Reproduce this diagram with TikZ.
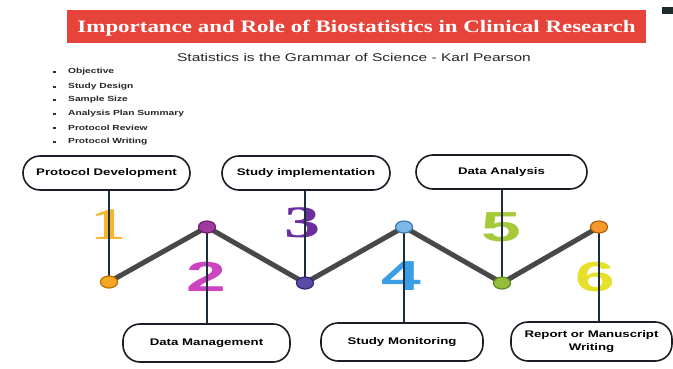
\documentclass[tikz,border=0pt]{standalone}
\usepackage{fontspec}
\usetikzlibrary{shapes.geometric}
\setmainfont{Liberation Serif}
\newfontfamily\titlefont[FakeStretch=1.31]{Liberation Serif}
\newfontfamily\labfont[FakeStretch=1.38]{Liberation Sans}
\newfontfamily\numsans[FakeStretch=1.7]{Liberation Sans}
\newfontfamily\numserif[FakeStretch=1.6]{Liberation Serif}

\definecolor{titlered}{RGB}{230,68,58}
\definecolor{zigline}{RGB}{72,72,72}
\definecolor{stemline}{RGB}{30,45,61}
\definecolor{ovaledge}{RGB}{25,30,38}
\definecolor{corner}{RGB}{28,43,43}
\definecolor{numA}{RGB}{245,183,49}
\definecolor{numB}{RGB}{204,68,192}
\definecolor{numC}{RGB}{107,46,158}
\definecolor{numD}{RGB}{58,158,228}
\definecolor{numE}{RGB}{166,201,58}
\definecolor{numF}{RGB}{230,224,42}

\tikzset{
  oval/.style={draw=ovaledge, line width=1.6pt, fill=white, rounded corners=17pt,
    inner sep=2pt, align=center, font=\labfont\bfseries\fontsize{9.6}{11}\selectfont},
  stem/.style={draw=stemline, line width=2pt},
  zig/.style={draw=zigline, line width=5pt, line join=round, line cap=round},
  dot/.style={ellipse, minimum width=17pt, minimum height=12pt, inner sep=0pt, line width=1.2pt},
  sansnum/.style={inner sep=0pt, font=\numsans\bfseries\fontsize{42}{42}\selectfont},
  serifnum/.style={inner sep=0pt, font=\numserif\bfseries\fontsize{45}{45}\selectfont},
  bulletmark/.style={fill=black!80, minimum width=3pt, minimum height=2pt, inner sep=0pt},
  bullettext/.style={anchor=west, inner sep=0pt, text=black!85,
    font=\labfont\bfseries\fontsize{7.4}{8}\selectfont},
}

\begin{document}
\begin{tikzpicture}[x=1pt, y=-1pt]
\useasboundingbox (0,0) rectangle (673,369);
\fill[white] (0,0) rectangle (673,369);

% heading banner and small corner mark
\node[fill=titlered, minimum width=579.3pt, minimum height=33pt, inner sep=0pt] (banner) at (356.3,26.5) {};
\node[text=white, inner sep=0pt, anchor=base, font=\titlefont\bfseries\fontsize{17.5}{20}\selectfont]
  (title) at (356.5,32.3) {Importance and Role of Biostatistics in Clinical Research};
\fill[corner] (662,7) rectangle (673,14);

% quotation
\node[inner sep=0pt, anchor=base, font=\labfont\fontsize{11.25}{13}\selectfont, text=black!85]
  (quote) at (354,62) {Statistics is the Grammar of Science - Karl Pearson};

% protocol checklist
\foreach \i/\t/\yy in {1/Objective/72, 2/Study Design/87, 3/Sample Size/100,
    4/Analysis Plan Summary/114, 5/Protocol Review/128, 6/Protocol Writing/142} {
  \node[bulletmark] (b\i) at (54,\yy) {};
  \node[bullettext] (t\i) at (68,\yy) {\t};
}

% large step numbers
\node[serifnum, text=numA] (n1) at (108,225) {1};
\node[sansnum, text=numB] (n2) at (206.5,277) {2};
\node[serifnum, text=numC] (n3) at (302,222.5) {3};
\node[sansnum, text=numD] (n4) at (401,276) {4};
\node[sansnum, text=numE] (n5) at (501,227) {5};
\node[sansnum, text=numF] (n6) at (595,277) {6};

% joints of the zigzag
\coordinate (p1) at (109,282);
\coordinate (p2) at (207,227);
\coordinate (p3) at (305,283);
\coordinate (p4) at (404,227);
\coordinate (p5) at (502,283);
\coordinate (p6) at (599,227);

% stage labels
\node[oval, minimum width=167pt, minimum height=34pt] (pd) at (106.5,173) {Protocol Development};
\node[oval, minimum width=168pt, minimum height=34pt] (si) at (306,173) {Study implementation};
\node[oval, minimum width=171pt, minimum height=34pt] (da) at (501.5,172) {Data Analysis};
\node[oval, minimum width=167pt, minimum height=38pt] (dm) at (206.5,343) {Data Management};
\node[oval, minimum width=162pt, minimum height=38pt] (sm) at (402,342) {Study Monitoring};
\node[oval, minimum width=161pt, minimum height=39pt, font=\labfont\bfseries\fontsize{9.6}{12.5}\selectfont]
  (rw) at (591.5,341.5) {Report or Manuscript\\Writing};

% stems from labels to joints, crossing the numbers
\draw[stem] (pd.south -| p1) -- (p1);
\draw[stem] (si.south -| p3) -- (p3);
\draw[stem] (da.south -| p5) -- (p5);
\draw[stem] (p2) -- (p2 |- dm.north);
\draw[stem] (p4) -- (p4 |- sm.north);
\draw[stem] (p6) -- (p6 |- rw.north);

% zigzag timeline
\draw[zig] (p1) -- (p2) -- (p3) -- (p4) -- (p5) -- (p6);

% coloured joints
\node[dot, fill={rgb,255:red,245;green,166;blue,35}, draw={rgb,255:red,184;green,110;blue,0}] (d1) at (p1) {};
\node[dot, fill={rgb,255:red,160;green,59;blue,158}, draw={rgb,255:red,107;green,31;blue,107}] (d2) at (p2) {};
\node[dot, fill={rgb,255:red,91;green,75;blue,168}, draw={rgb,255:red,51;green,38;blue,119}] (d3) at (p3) {};
\node[dot, fill={rgb,255:red,125;green,184;blue,232}, draw={rgb,255:red,58;green,120;blue,176}] (d4) at (p4) {};
\node[dot, fill={rgb,255:red,148;green,191;blue,62}, draw={rgb,255:red,95;green,135;blue,32}] (d5) at (p5) {};
\node[dot, fill={rgb,255:red,245;green,154;blue,42}, draw={rgb,255:red,176;green,96;blue,10}] (d6) at (p6) {};
\end{tikzpicture}
\end{document}
